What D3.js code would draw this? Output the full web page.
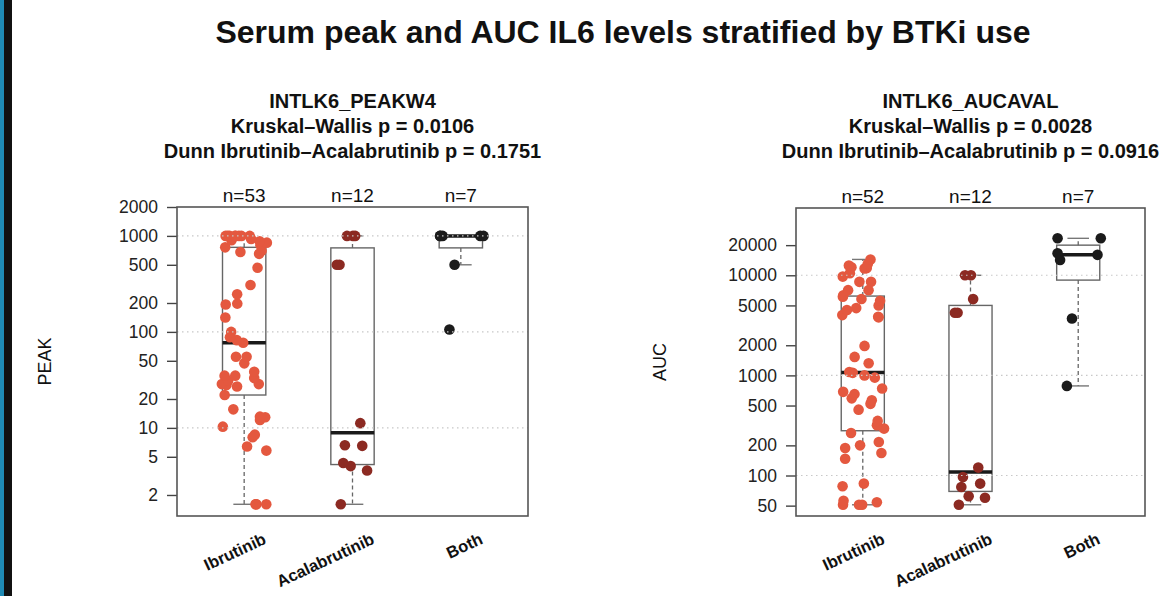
<!DOCTYPE html>
<html><head><meta charset="utf-8">
<script src="https://cdn.jsdelivr.net/npm/d3@7"></script>
<style>
body{margin:0;background:#fff}
svg{display:block}
text{font-family:"Liberation Sans",Arial,Helvetica,sans-serif}
</style>
</head><body>
<svg id="chart" width="1163" height="596"></svg>
<script>
// ---------------- data ----------------
const categories = ["Ibrutinib", "Acalabrutinib", "Both"];

const peakIbrutinib = [1.6,1.6,1.6,1.6,5.8,6.4,8.0,8.5,10.3,12.1,12.9,13.1,15.6,22,27,28,28.6,28.6,31,33,35,35,38.5,47,55,55,77,82,88,100,141,193,197,246,308,466,650,680,700,760,800,850,880,900,930,1000,1000,1000,1000,1000,1000,1000,1000];
const peakAcalabrutinib = [1.6,3.6,4.0,4.3,6.5,6.6,11.2,500,500,1000,1000,1000];
const peakBoth = [106,500,1000,1000,1000,1000,1000];

const aucIbrutinib = [51,51,51,54,56,78,83,147,168,188,200,216,266,294,318,351,455,520,565,590,650,685,740,950,1000,1060,1080,1320,1530,1970,3800,3850,4000,4500,4700,5000,5570,5800,6100,6300,7100,7100,8600,8600,9700,10500,11700,11800,12000,12500,13000,14400];
const aucAcalabrutinib = [51,60,62,76.7,83,96.6,120,4220,4220,5780,10000,10000];
const aucBoth = [785,3700,14200,16000,16600,23400,23400];

const peakTicks = [2,5,10,20,50,100,200,500,1000,2000];
const aucTicks = [50,100,200,500,1000,2000,5000,10000,20000];
const peakGrid = [10,100,1000];
const aucGrid = [100,1000,10000];

const mainTitle = "Serum peak and AUC IL6 levels stratified by BTKi use";
const peakTitle = ["INTLK6_PEAKW4","Kruskal\u2013Wallis p = 0.0106","Dunn Ibrutinib\u2013Acalabrutinib p = 0.1751"];
const aucTitle = ["INTLK6_AUCAVAL","Kruskal\u2013Wallis p = 0.0028","Dunn Ibrutinib\u2013Acalabrutinib p = 0.0916"];
const peakLabel = "PEAK";
const aucLabel = "AUC";

// ---------------- style ----------------
const groupColors = ["#E4583F", "#8C2A22", "#1B1B1B"];

const svg = d3.select("#chart");

// left decoration strips
svg.append("rect").attr("x",0).attr("y",0).attr("width",4).attr("height",596).attr("fill","#1F8BB5");
svg.append("rect").attr("x",4).attr("y",0).attr("width",8).attr("height",596).attr("fill","#111");

svg.append("text").attr("x",623).attr("y",43).attr("text-anchor","middle")
  .attr("font-size",32).attr("font-weight","bold").attr("fill","#111").text(mainTitle);

// R-style five number summary (Tukey hinges)
function fivenum(arr){
  const x = arr.slice().sort(d3.ascending), n = x.length;
  const n4 = Math.floor((n+3)/2)/2;
  const d = [1, n4, (n+1)/2, n+1-n4, n];
  return d.map(v => 0.5*(x[Math.floor(v)-1] + x[Math.ceil(v)-1]));
}
function boxStats(arr){
  const f = fivenum(arr);
  const iqr = f[3]-f[1];
  const hi = d3.max(arr.filter(v => v <= f[3] + 1.5*iqr));
  const lo = d3.min(arr.filter(v => v >= f[1] - 1.5*iqr));
  return {q1:f[1], med:f[2], q3:f[3], lo, hi};
}

function panel(cfg){
  const g = svg.append("g");
  const x = d3.scaleLinear().domain([0.38, 3.62]).range([cfg.x0, cfg.x1]);
  const y = d3.scaleLog().domain(cfg.domain).range([cfg.y1, cfg.y0]);
  const bw = x(1.4) - x(1);   // box width 0.8 units
  const cw = x(1.2) - x(1);   // staple width 0.4 units

  // titles
  cfg.titles.forEach((t,i) => {
    g.append("text").attr("x",(cfg.x0+cfg.x1)/2).attr("y",108+i*25)
      .attr("text-anchor","middle").attr("font-size",20).attr("font-weight","bold")
      .attr("fill","#111").text(t);
  });

  // y axis
  const ax = g.append("g").attr("transform",`translate(${cfg.x0},0)`)
    .call(d3.axisLeft(y).tickValues(cfg.ticks).tickFormat(d3.format("d")).tickSize(10).tickPadding(9));
  ax.select(".domain").remove();
  ax.selectAll("line").attr("stroke","#444").attr("stroke-width",1.4);
  ax.selectAll("text").attr("font-size",17.5).attr("fill","#222")
    .style("font-family","'Liberation Sans',Arial,sans-serif");

  g.append("text").attr("transform",`translate(${cfg.labelX},${(cfg.y0+cfg.y1)/2}) rotate(-90)`)
    .attr("text-anchor","middle").attr("dy","0.35em").attr("font-size",18).attr("fill","#111").text(cfg.label);

  // boxes
  cfg.series.forEach((vals,i) => {
    const s = boxStats(vals);
    const cx = x(i+1);
    const bg = g.append("g");
    bg.append("line").attr("x1",cx).attr("x2",cx).attr("y1",y(s.q3)).attr("y2",y(s.hi))
      .attr("stroke","#666").attr("stroke-width",1.3).attr("stroke-dasharray","4,3");
    bg.append("line").attr("x1",cx).attr("x2",cx).attr("y1",y(s.q1)).attr("y2",y(s.lo))
      .attr("stroke","#666").attr("stroke-width",1.3).attr("stroke-dasharray","4,3");
    [s.hi, s.lo].forEach(v => bg.append("line").attr("x1",cx-cw/2).attr("x2",cx+cw/2)
      .attr("y1",y(v)).attr("y2",y(v)).attr("stroke","#777").attr("stroke-width",1.4));
    bg.append("rect").attr("x",cx-bw/2).attr("width",bw).attr("y",y(s.q3)).attr("height",y(s.q1)-y(s.q3))
      .attr("fill","none").attr("stroke","#666").attr("stroke-width",1.4);
    bg.append("line").attr("x1",cx-bw/2).attr("x2",cx+bw/2).attr("y1",y(s.med)).attr("y2",y(s.med))
      .attr("stroke","#1a1a1a").attr("stroke-width",3.5);

    // n labels
    g.append("text").attr("x",cx).attr("y",cfg.y0-5).attr("text-anchor","middle")
      .attr("font-size",19).attr("fill","#111").text("n=" + vals.length);

    // category labels
    g.append("text").attr("transform",`translate(${cx+23},${cfg.y1+27}) rotate(-25)`)
      .attr("text-anchor","end").attr("font-size",16.5).attr("font-weight","bold").attr("fill","#111")
      .text(categories[i]);
  });

  // jittered points
  cfg.series.forEach((vals,i) => {
    const rng = d3.randomLcg(cfg.seed + i*17);
    g.append("g").selectAll("circle").data(vals).join("circle")
      .attr("cx", () => x(i+1 + (rng()-0.5)*0.42))
      .attr("cy", d => y(d))
      .attr("r", 5.3)
      .attr("fill", groupColors[i]);
  });

  // dotted grid on top
  cfg.grid.forEach(v => g.append("line").attr("x1",cfg.x0).attr("x2",cfg.x1).attr("y1",y(v)).attr("y2",y(v))
    .attr("stroke","#c8c8c8").attr("stroke-width",1.1).attr("stroke-dasharray","1.5,3.5"));

  // frame
  g.append("rect").attr("x",cfg.x0).attr("y",cfg.y0).attr("width",cfg.x1-cfg.x0).attr("height",cfg.y1-cfg.y0)
    .attr("fill","none").attr("stroke","#555").attr("stroke-width",1.6);
}

panel({x0:177, x1:528, y0:207, y1:516, domain:[1.208,2000], ticks:peakTicks, grid:peakGrid,
  titles:peakTitle, label:peakLabel, labelX:45, seed:0.31,
  series:[peakIbrutinib, peakAcalabrutinib, peakBoth]});
panel({x0:796, x1:1145, y0:208, y1:516, domain:[39.4,47000], ticks:aucTicks, grid:aucGrid,
  titles:aucTitle, label:aucLabel, labelX:660, seed:0.57,
  series:[aucIbrutinib, aucAcalabrutinib, aucBoth]});
</script>
</body></html>
